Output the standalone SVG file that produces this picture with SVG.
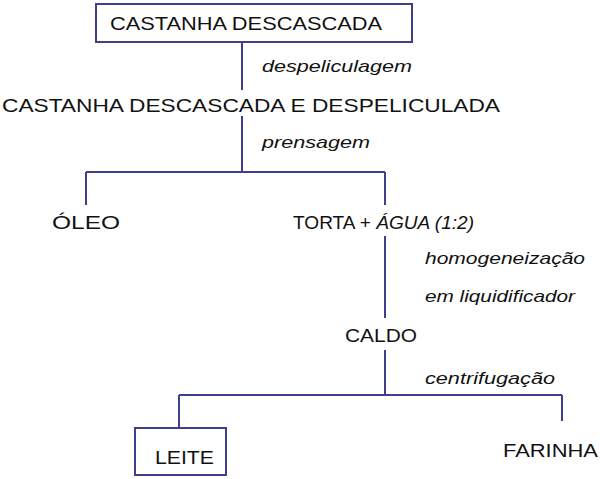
<svg xmlns="http://www.w3.org/2000/svg" width="600" height="479" viewBox="0 0 600 479">
<style>
text{font-family:"Liberation Sans",Arial,sans-serif;font-size:19px;fill:#111}
.i{font-style:italic;font-size:17px}
.l{stroke:#3f3f8f;stroke-width:2;fill:none}
</style>
<rect width="600" height="479" fill="#fff"/>
<g id="connectors">
<path class="l" d="M242 42V90M242 116V172M86 172H385M86 172V205M385 172V205M385 236V318M385 350V395M179 395H562M179 395V428M562 395V421"/>
</g>
<g id="n1"><rect class="l" x="96" y="4" width="316" height="38"/><text x="110" y="30" textLength="272" lengthAdjust="spacingAndGlyphs">CASTANHA DESCASCADA</text></g>
<g id="e1"><text class="i" x="262" y="72" textLength="150" lengthAdjust="spacingAndGlyphs">despeliculagem</text></g>
<g id="n2"><text x="2" y="112" textLength="498" lengthAdjust="spacingAndGlyphs">CASTANHA DESCASCADA E DESPELICULADA</text></g>
<g id="e2"><text class="i" x="262" y="148" textLength="108" lengthAdjust="spacingAndGlyphs">prensagem</text></g>
<g id="n3"><text x="52" y="229" textLength="68" lengthAdjust="spacingAndGlyphs">ÓLEO</text></g>
<g id="n4"><text x="293" y="229" textLength="181" lengthAdjust="spacingAndGlyphs">TORTA + <tspan font-style="italic">ÁGUA (1:2)</tspan></text></g>
<g id="e3"><text class="i" x="425" y="264" textLength="160" lengthAdjust="spacingAndGlyphs">homogeneização</text><text class="i" x="425" y="302" textLength="150" lengthAdjust="spacingAndGlyphs">em liquidificador</text></g>
<g id="n5"><text x="345" y="342" textLength="72" lengthAdjust="spacingAndGlyphs">CALDO</text></g>
<g id="e4"><text class="i" x="425" y="384" textLength="130" lengthAdjust="spacingAndGlyphs">centrifugação</text></g>
<g id="n6"><rect class="l" x="135" y="428" width="91" height="47"/><text x="155" y="464" textLength="59" lengthAdjust="spacingAndGlyphs">LEITE</text></g>
<g id="n7"><text x="503" y="457" textLength="95" lengthAdjust="spacingAndGlyphs">FARINHA</text></g>
</svg>
